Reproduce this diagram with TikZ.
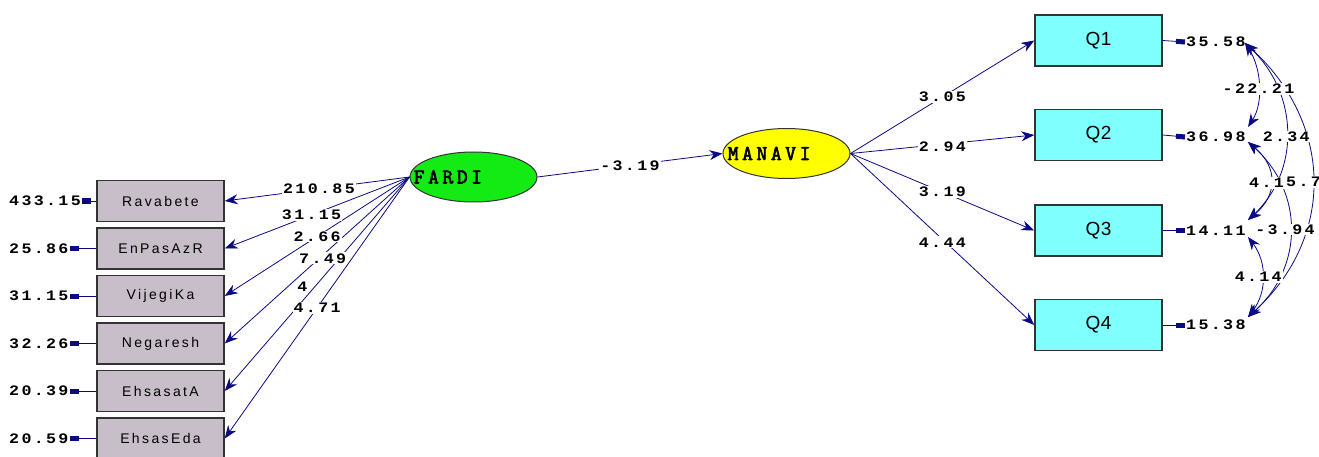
\documentclass[tikz,border=0pt]{standalone}
\usepackage{fontspec}
\usetikzlibrary{arrows.meta,shapes.geometric}
\newfontfamily\numfont[LetterSpace=16, FakeStretch=1.15]{Liberation Mono}
\newfontfamily\latfont[LetterSpace=17, FakeBold=3]{Latin Modern Mono}
\newfontfamily\boxfont[LetterSpace=17]{Liberation Sans}
\newfontfamily\qfont[LetterSpace=2]{Liberation Sans}
\definecolor{navy}{RGB}{10,10,130}
\definecolor{obsfill}{RGB}{200,190,202}
\definecolor{qfill}{RGB}{128,255,255}
\definecolor{fardifill}{RGB}{20,235,20}
\definecolor{manavifill}{RGB}{255,255,0}
\tikzset{
  num/.style={font=\numfont\fontsize{14.5}{16}\selectfont\bfseries, inner sep=1pt},
  lbl/.style={num, fill=white},
  obs/.style={draw=black!80, line width=1.5pt, fill=obsfill, minimum width=127pt,
    minimum height=41pt, inner sep=0pt, font=\boxfont\fontsize{14}{16}\selectfont},
  qbox/.style={obs, fill=qfill, minimum height=51pt, font=\qfont\fontsize{19}{21}\selectfont},
  lat/.style={ellipse, draw=black!80, line width=1pt, minimum width=127pt,
    minimum height=50pt, inner sep=0pt},
  lattext/.style={font=\latfont\fontsize{21}{23}\selectfont, inner sep=0pt},
  pth/.style={draw=navy, line width=0.8pt, -{Stealth[length=13pt,width=10pt]}},
  cov/.style={draw=navy, line width=0.8pt,
    {Stealth[length=13pt,width=10pt]}-{Stealth[length=13pt,width=10pt]}},
  err/.style={draw=navy, line width=0.8pt, {Rectangle[length=9pt,width=5pt]}-}
}
\begin{document}
\begin{tikzpicture}[x=1pt,y=-1pt]
\useasboundingbox (0,0) rectangle (1319,457);

% latent variables
\node[lat, fill=fardifill, label={[lattext, anchor=west, xshift=4pt]west:FARDI}] (fardi) at (473.5,177) {};
\node[lat, fill=manavifill, label={[lattext, anchor=west, xshift=5pt]west:MANAVI}] (manavi) at (786.5,153.5) {};

% left indicators
\node[obs] (b1) at (160.5,201) {Ravabete};
\node[obs] (b2) at (160.5,248.5) {EnPasAzR};
\node[obs] (b3) at (160.5,296) {VijegiKa};
\node[obs] (b4) at (160.5,343.5) {Negaresh};
\node[obs] (b5) at (160.5,391) {EhsasatA};
\node[obs] (b6) at (160.5,438.5) {EhsasEda};

% left error labels
\node[num, anchor=west] (e1) at (8,201) {433.15};
\node[num, anchor=west] (e2) at (8,248.5) {25.86};
\node[num, anchor=west] (e3) at (8,296) {31.15};
\node[num, anchor=west] (e4) at (8,343.5) {32.26};
\node[num, anchor=west] (e5) at (8,391) {20.39};
\node[num, anchor=west] (e6) at (8,438.5) {20.59};
\foreach \i in {1,...,6} \draw[err] (e\i.east) -- (b\i.west);

% right indicators
\node[qbox] (q1) at (1098.5,40.5) {Q1};
\node[qbox] (q2) at (1098.5,135) {Q2};
\node[qbox] (q3) at (1098.5,230.5) {Q3};
\node[qbox] (q4) at (1098.5,325) {Q4};

\node[num, anchor=west] (f1) at (1185,42) {35.58};
\node[num, anchor=west] (f2) at (1185,137) {36.98};
\node[num, anchor=west] (f3) at (1185,230.5) {14.11};
\node[num, anchor=west] (f4) at (1185,325) {15.38};
\foreach \i in {1,...,4} \draw[err] (f\i.west) -- (q\i.east);

% loadings FARDI
\foreach \i in {1,...,6} \draw[pth] (fardi.west) -- (b\i.east);
\path (fardi.west) -- (b1.east) node[lbl, pos=.49] (l1) {210.85};
\path (fardi.west) -- (b2.east) node[lbl, pos=.53] (l2) {31.15};
\path (fardi.west) -- (b3.east) node[lbl, pos=.50] (l3) {2.66};
\path (fardi.west) -- (b4.east) node[lbl, pos=.47, yshift=-3pt] (l4) {7.49};
\path (fardi.west) -- (b5.east) node[lbl, pos=.515, xshift=-12pt] (l5) {4};
\path (fardi.west) -- (b6.east) node[lbl, pos=.50] (l6) {4.71};

% structural path
\draw[pth] (fardi.east) -- (manavi.west) node[lbl, pos=.5] (l7) {-3.19};

% loadings MANAVI
\foreach \i in {1,...,4} \draw[pth] (manavi.east) -- (q\i.west);
\path (manavi.east) -- (q1.west) node[lbl, pos=.5] (m1) {3.05};
\path (manavi.east) -- (q2.west) node[lbl, pos=.5, yshift=-2pt] (m2) {2.94};
\path (manavi.east) -- (q3.west) node[lbl, pos=.5] (m3) {3.19};
\path (manavi.east) -- (q4.west) node[lbl, pos=.5, yshift=-3pt] (m4) {4.44};

% covariance end points
\coordinate (c1) at (1245,43);
\coordinate (c2a) at (1248,127);
\coordinate (c2b) at (1248,142);
\coordinate (c3a) at (1248,220);
\coordinate (c3b) at (1248,237);
\coordinate (c4) at (1248,317);

\draw[cov] (c1) .. controls +(16,25) and +(16,-25) .. (c2a);
\draw[cov] (c1) .. controls +(53,50) and +(53,-50) .. (c3a);
\draw[cov] (c1) .. controls +(88,80) and +(88,-80) .. (c4);
\draw[cov] (c2b) .. controls +(30,25) and +(30,-25) .. (c3a);
\draw[cov] (c2b) .. controls +(56,50) and +(56,-50) .. (c4);
\draw[cov] (c3b) .. controls +(19,25) and +(19,-25) .. (c4);

\path (c1) .. controls +(16,25) and +(16,-25) .. (c2a) node[lbl, pos=.5, yshift=-4pt] (k1) {-22.21};
\path (c1) .. controls +(53,50) and +(53,-50) .. (c3a) node[lbl, pos=.5, yshift=-5pt] (k2) {2.34};
\path (c2b) .. controls +(30,25) and +(30,-25) .. (c3a) node[lbl, pos=.5, xshift=-4pt, yshift=-2pt] (k4) {4.1};
\path (c1) .. controls +(88,80) and +(88,-80) .. (c4) node[lbl, pos=.5, xshift=-9pt, yshift=-2pt] (k3) {5.7};
\path (c2b) .. controls +(56,50) and +(56,-50) .. (c4) node[lbl, pos=.5, xshift=-5pt] (k5) {-3.94};
\path (c3b) .. controls +(19,25) and +(19,-25) .. (c4) node[lbl, pos=.5, xshift=-4pt] (k6) {4.14};
\end{tikzpicture}
\end{document}
